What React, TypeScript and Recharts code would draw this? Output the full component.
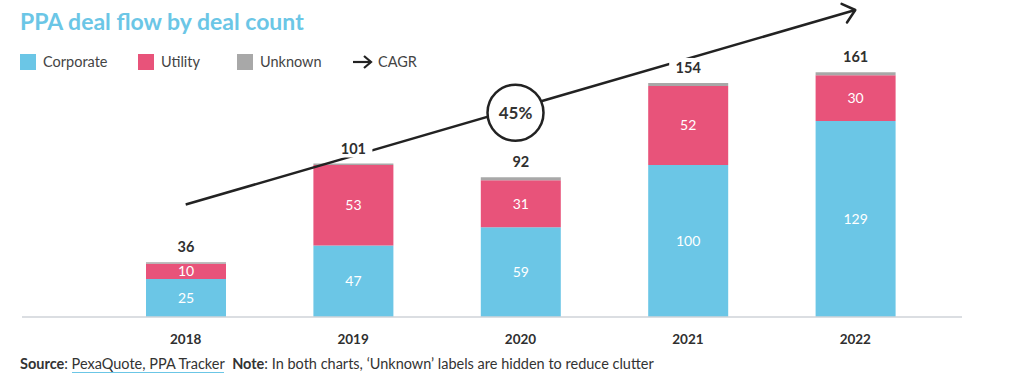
import { BarChart, Bar, XAxis, YAxis, LabelList, ReferenceLine } from "recharts";

const years = ["2018", "2019", "2020", "2021", "2022"];
const corporate = [25, 47, 59, 100, 129];
const utility = [10, 53, 31, 52, 30];
const unknown = [1, 1, 2, 2, 2];
const totals = [36, 101, 92, 154, 161];
const cagrLabel = "45%";

const data = years.map((year, i) => ({
  year,
  Corporate: corporate[i],
  Utility: utility[i],
  Unknown: unknown[i],
}));

const FONT = "Lato, 'Open Sans', sans-serif";
const BLUE = "#6bc6e6";
const PINK = "#e8537a";
const GREY = "#a8a8a8";
const DARK = "#2f2f2f";

const TotalLabel = (props: any) => {
  const { x, y, width, index } = props;
  const cx = x + width / 2;
  return (
    <g>
      <rect x={cx - 19} y={y - 25} width={38} height={19} fill="#fff" />
      <text
        x={cx}
        y={y - 10}
        textAnchor="middle"
        fontFamily={FONT}
        fontWeight={700}
        fontSize={14.5}
        fill={DARK}
      >
        {totals[index]}
      </text>
    </g>
  );
};

const CagrArrow = (props: any) => {
  const { x1, y1, x2, y2 } = props;
  const ang = Math.atan2(y2 - y1, x2 - x1);
  const h = 15;
  const a1 = ang + Math.PI - 0.7;
  const a2 = ang + Math.PI + 0.7;
  const mx = (x1 + x2) / 2 - 5;
  const my = y1 + ((mx - x1) / (x2 - x1)) * (y2 - y1);
  return (
    <g>
      <line x1={x1} y1={y1} x2={x2} y2={y2} stroke="#222" strokeWidth={2.5} />
      <polyline
        points={`${x2 + h * Math.cos(a1)},${y2 + h * Math.sin(a1)} ${x2},${y2} ${x2 + h * Math.cos(a2)},${y2 + h * Math.sin(a2)}`}
        fill="none"
        stroke="#222"
        strokeWidth={2.5}
        strokeLinecap="round"
        strokeLinejoin="round"
      />
      <circle cx={mx} cy={my + 4} r={28} fill="#fff" stroke="#222" strokeWidth={2.5} />
      <text
        x={mx}
        y={my + 10}
        textAnchor="middle"
        fontFamily={FONT}
        fontWeight={700}
        fontSize={17}
        fill="#333"
      >
        {cagrLabel}
      </text>
    </g>
  );
};

const legendItems = [
  { name: "Corporate", color: BLUE, left: 20 },
  { name: "Utility", color: PINK, left: 138 },
  { name: "Unknown", color: GREY, left: 237 },
];

export default function App() {
  return (
    <div
      style={{
        position: "absolute",
        left: 0,
        top: 0,
        width: 1024,
        height: 381,
        background: "#fff",
        fontFamily: FONT,
      }}
    >
      <BarChart
        width={1024}
        height={381}
        data={data}
        margin={{ top: 10, right: 62, left: 22, bottom: 34 }}
      >
        <XAxis
          dataKey="year"
          height={30}
          padding={{ left: 80, right: 23 }}
          axisLine={{ stroke: "#cfd3d8", strokeWidth: 1.5 }}
          tickLine={false}
          tickMargin={11}
          tick={{ fill: DARK, fontSize: 13.5, fontWeight: 700, fontFamily: FONT }}
        />
        <YAxis hide domain={[0, 202]} allowDataOverflow />
        <Bar dataKey="Corporate" stackId="a" fill={BLUE} barSize={80} isAnimationActive={false}>
          <LabelList dataKey="Corporate" position="center" fill="#fff" fontSize={14} fontFamily={FONT} />
        </Bar>
        <Bar dataKey="Utility" stackId="a" fill={PINK} barSize={80} isAnimationActive={false}>
          <LabelList dataKey="Utility" position="center" fill="#fff" fontSize={14} fontFamily={FONT} />
        </Bar>
        <Bar dataKey="Unknown" stackId="a" fill={GREY} barSize={80} isAnimationActive={false}>
          <LabelList dataKey="Unknown" content={TotalLabel} />
        </Bar>
        <ReferenceLine
          segment={[
            { x: "2018", y: 74 },
            { x: "2022", y: 202 },
          ]}
          ifOverflow="visible"
          shape={CagrArrow}
        />
      </BarChart>

      <div
        style={{
          position: "absolute",
          left: 20,
          top: 7,
          fontSize: 23,
          fontWeight: 700,
          color: BLUE,
        }}
      >
        PPA deal flow by deal count
      </div>

      {legendItems.map((it) => (
        <div
          key={it.name}
          style={{
            position: "absolute",
            left: it.left,
            top: 53,
            display: "flex",
            alignItems: "center",
            fontSize: 14.5,
            color: "#444",
          }}
        >
          <span style={{ width: 16, height: 16, background: it.color, marginRight: 7, display: "inline-block" }} />
          {it.name}
        </div>
      ))}
      <div
        style={{
          position: "absolute",
          left: 352,
          top: 53,
          display: "flex",
          alignItems: "center",
          fontSize: 14.5,
          color: "#444",
        }}
      >
        <svg width={22} height={16} style={{ marginRight: 4 }}>
          <line x1={1} y1={8} x2={19} y2={8} stroke="#222" strokeWidth={2.2} />
          <polyline points="12,2 19,8 12,14" fill="none" stroke="#222" strokeWidth={2.2} />
        </svg>
        CAGR
      </div>

      <div
        style={{
          position: "absolute",
          left: 20,
          top: 355,
          fontSize: 14.5,
          color: "#333",
        }}
      >
        <b>Source</b>:{" "}
        <span style={{ borderBottom: `1px solid ${BLUE}` }}>PexaQuote, PPA Tracker</span>
        {"  "}
        <b style={{ marginLeft: 4 }}>Note</b>: In both charts, ‘Unknown’ labels are hidden to reduce clutter
      </div>
    </div>
  );
}
